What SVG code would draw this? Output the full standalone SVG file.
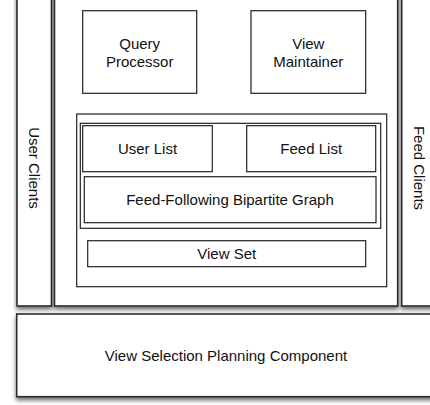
<svg xmlns="http://www.w3.org/2000/svg" width="430" height="405" viewBox="0 0 430 405">
<defs>
<filter id="sh" x="-10%" y="-10%" width="120%" height="125%">
<feDropShadow dx="0" dy="3" stdDeviation="2.2" flood-color="#000" flood-opacity="0.55"/>
</filter>
</defs>
<style>
.big{fill:#fff;stroke:#2a2a2a;stroke-width:1.6;filter:url(#sh)}
.box{fill:#fff;stroke:#222;stroke-width:1.2}
text{font-family:"Liberation Sans",Arial,sans-serif;font-size:15px;fill:#111;text-anchor:middle;dominant-baseline:central}
</style>
<g id="user-clients">
<rect class="big" x="17" y="-20" width="34.5" height="326"/>
<text transform="translate(34,168) rotate(90)">User Clients</text>
</g>
<g id="feed-clients">
<rect class="big" x="401.7" y="-20" width="60" height="326"/>
<text transform="translate(419,168) rotate(90)">Feed Clients</text>
</g>
<g id="server">
<rect class="big" x="54.5" y="-20" width="343.2" height="326"/>
</g>
<g id="view-selection">
<rect class="big" x="16.7" y="314" width="440" height="82.7"/>
<text x="226" y="355">View Selection Planning Component</text>
</g>
<g id="query-processor">
<rect class="box" x="82.7" y="10.7" width="114" height="82.6"/>
<text x="139.7" y="43.3">Query</text>
<text x="139.7" y="61">Processor</text>
</g>
<g id="view-maintainer">
<rect class="box" x="251" y="10.7" width="114.7" height="82.6"/>
<text x="308.3" y="43.3">View</text>
<text x="308.3" y="61">Maintainer</text>
</g>
<g id="storage">
<rect class="box" x="76.7" y="114" width="310" height="172.7"/>
</g>
<g id="graph-container">
<rect class="box" x="80.3" y="123.3" width="300.4" height="105"/>
</g>
<g id="user-list">
<rect class="box" x="82.7" y="125.7" width="129.6" height="46"/>
<text x="147.5" y="148.5">User List</text>
</g>
<g id="feed-list">
<rect class="box" x="246.7" y="125.7" width="129" height="46"/>
<text x="311.2" y="148.5">Feed List</text>
</g>
<g id="bipartite-graph">
<rect class="box" x="84.3" y="176.7" width="291.7" height="46"/>
<text x="230" y="199.7">Feed-Following Bipartite Graph</text>
</g>
<g id="view-set">
<rect class="box" x="87.7" y="240.7" width="278" height="26"/>
<text x="226.7" y="253.7">View Set</text>
</g>
<g id="connectors"></g>
</svg>
